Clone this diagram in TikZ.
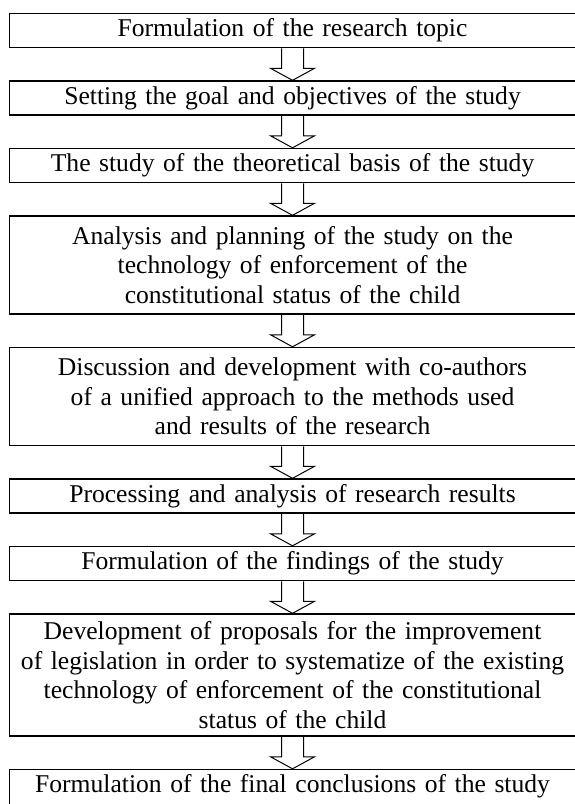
\documentclass[tikz,border=0pt]{standalone}
\usepackage{fontspec}
\setmainfont[WordSpace=0.75]{Liberation Serif}
\usetikzlibrary{positioning,calc}

\begin{document}
\begin{tikzpicture}[x=1pt, y=1pt, node distance=16pt]
\tikzset{stage/.style={draw, line width=0.75pt, text width=276pt, inner xsep=3.5pt, inner ysep=2pt,
  align=center, minimum height=17pt, font=\fontsize{12.8}{14.8}\selectfont}} % one step of the study
\tikzset{hollow/.style={draw, line width=0.5pt, line join=miter}} % open block arrow
\useasboundingbox (0,0) rectangle (287,-402);
\node[stage, anchor=north west] (topic) at (4.4,-6.4) {Formulation of the research topic};
\node[stage, below=of topic] (goal) {Setting the goal and objectives of the study};
\node[stage, below=of goal] (basis) {The study of the theoretical basis of the study};
\node[stage, below=of basis, minimum height=49pt] (planning) {Analysis and planning of the study on the\\
  technology of enforcement of the\\ constitutional status of the child};
\node[stage, below=of planning, minimum height=49pt] (coauthors) {Discussion and development with co-authors\\
  of a unified approach to the methods used\\ and results of the research};
\node[stage, below=of coauthors] (processing) {Processing and analysis of research results};
\node[stage, below=of processing] (findings) {Formulation of the findings of the study};
\node[stage, below=of findings, minimum height=61pt] (proposals) {Development of proposals for the improvement\\
  of legislation in order to systematize of the existing\\ technology of enforcement of the constitutional\\
  status of the child};
% last box runs off the bottom of the page
\node[stage, below=of proposals, minimum height=0pt, text height=9.5pt, text depth=10pt] (conclusions)
  {Formulation of the final conclusions of the study};
\foreach \a/\b in {topic/goal, goal/basis, basis/planning, planning/coauthors, coauthors/processing,
  processing/findings, findings/proposals, proposals/conclusions}
  \draw[hollow] ($(\a.south)+(-5.5,0)$) -- ($(\b.north)+(-5.5,6)$) -- ++(-5.5,0) -- (\b.north)
    -- ++(11,6) -- ++(-5.5,0) -- ($(\a.south)+(5.5,0)$);
\end{tikzpicture}
\end{document}
